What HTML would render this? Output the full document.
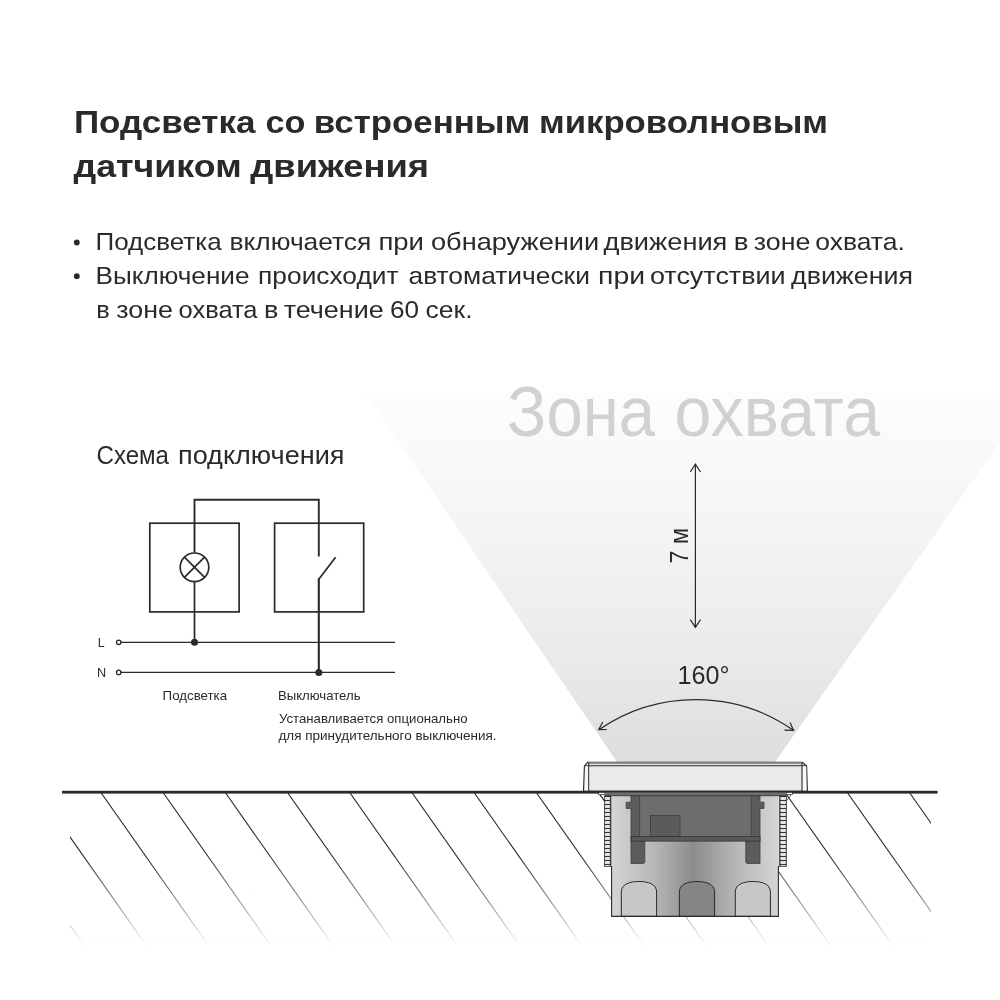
<!DOCTYPE html>
<html lang="ru">
<head>
<meta charset="utf-8">
<title>Подсветка со встроенным микроволновым датчиком движения</title>
<style>
  html, body { margin: 0; padding: 0; background: #ffffff; }
  body { width: 1000px; height: 1000px; overflow: hidden; position: relative; font-family: "Liberation Sans", sans-serif; }
  svg { position: absolute; left: 0; top: 0; display: block; will-change: transform; }
  text { font-family: "Liberation Sans", sans-serif; }
</style>
</head>
<body>
<svg width="1000" height="1000" viewBox="0 0 1000 1000">
  <defs>
    <linearGradient id="beamG" x1="0" y1="391" x2="0" y2="762" gradientUnits="userSpaceOnUse">
      <stop offset="0" stop-color="#fdfdfd"/>
      <stop offset="0.35" stop-color="#f4f5f5"/>
      <stop offset="0.75" stop-color="#e8e9e9"/>
      <stop offset="1" stop-color="#dcdddd"/>
    </linearGradient>
    <linearGradient id="bodyG" x1="611" y1="0" x2="779" y2="0" gradientUnits="userSpaceOnUse">
      <stop offset="0" stop-color="#d4d6d6"/>
      <stop offset="0.25" stop-color="#b7b8b8"/>
      <stop offset="0.49" stop-color="#8c8c8c"/>
      <stop offset="0.75" stop-color="#b7b8b8"/>
      <stop offset="1" stop-color="#d4d6d6"/>
    </linearGradient>
    <linearGradient id="hatchFade" x1="0" y1="793" x2="0" y2="946" gradientUnits="userSpaceOnUse">
      <stop offset="0" stop-color="#ffffff" stop-opacity="0"/>
      <stop offset="0.4" stop-color="#ffffff" stop-opacity="0"/>
      <stop offset="0.72" stop-color="#ffffff" stop-opacity="0.5"/>
      <stop offset="1" stop-color="#ffffff" stop-opacity="1"/>
    </linearGradient>
    <clipPath id="hatchClip"><rect x="70" y="793" width="861" height="154"/></clipPath>
  </defs>

  <!-- light beam -->
  <polygon points="364,391.5 1000,391.5 1000,442 775,762 617,762" fill="url(#beamG)"/>

  <!-- big zone label -->
  <!--ZONA-START-->
  <text x="507.01" y="435.8" font-size="70" fill="#d1d1d1" textLength="147.99" lengthAdjust="spacingAndGlyphs">Зона</text>
  <text x="674.50" y="435.8" font-size="70" fill="#d1d1d1" textLength="205.50" lengthAdjust="spacingAndGlyphs">охвата</text>
  <text x="96.54" y="463.8" font-size="25.6" fill="#2b2a29" textLength="72.47" lengthAdjust="spacingAndGlyphs">Схема</text>
  <text x="177.99" y="463.8" font-size="25.6" fill="#2b2a29" textLength="166.51" lengthAdjust="spacingAndGlyphs">подключения</text>
  <!--ZONA-END-->

  <!-- title & bullets -->
  <!--TEXT-START-->
  <g fill="#2b2a29">
    <text x="73.92" y="132.8" font-size="31.5" font-weight="bold" textLength="181.62" lengthAdjust="spacingAndGlyphs">Подсветка</text>
    <text x="265.50" y="132.8" font-size="31.5" font-weight="bold" textLength="40.00" lengthAdjust="spacingAndGlyphs">со</text>
    <text x="313.80" y="132.8" font-size="31.5" font-weight="bold" textLength="216.56" lengthAdjust="spacingAndGlyphs">встроенным</text>
    <text x="539.00" y="132.8" font-size="31.5" font-weight="bold" textLength="289.01" lengthAdjust="spacingAndGlyphs">микроволновым</text>
    <text x="73.51" y="176.6" font-size="31.5" font-weight="bold" textLength="168.10" lengthAdjust="spacingAndGlyphs">датчиком</text>
    <text x="250.29" y="176.6" font-size="31.5" font-weight="bold" textLength="178.71" lengthAdjust="spacingAndGlyphs">движения</text>
    <text x="95.51" y="250" font-size="24.6" textLength="126.14" lengthAdjust="spacingAndGlyphs">Подсветка</text>
    <text x="229.44" y="250" font-size="24.6" textLength="141.90" lengthAdjust="spacingAndGlyphs">включается</text>
    <text x="378.44" y="250" font-size="24.6" textLength="45.55" lengthAdjust="spacingAndGlyphs">при</text>
    <text x="431.02" y="250" font-size="24.6" textLength="168.12" lengthAdjust="spacingAndGlyphs">обнаружении</text>
    <text x="603.50" y="250" font-size="24.6" textLength="123.85" lengthAdjust="spacingAndGlyphs">движения</text>
    <text x="733.78" y="250" font-size="24.6" textLength="14.76" lengthAdjust="spacingAndGlyphs">в</text>
    <text x="753.81" y="250" font-size="24.6" textLength="56.67" lengthAdjust="spacingAndGlyphs">зоне</text>
    <text x="815.25" y="250" font-size="24.6" textLength="89.55" lengthAdjust="spacingAndGlyphs">охвата.</text>
    <text x="95.48" y="283.6" font-size="24.6" textLength="154.03" lengthAdjust="spacingAndGlyphs">Выключение</text>
    <text x="258.13" y="283.6" font-size="24.6" textLength="140.37" lengthAdjust="spacingAndGlyphs">происходит</text>
    <text x="408.50" y="283.6" font-size="24.6" textLength="181.38" lengthAdjust="spacingAndGlyphs">автоматически</text>
    <text x="598.04" y="283.6" font-size="24.6" textLength="47.03" lengthAdjust="spacingAndGlyphs">при</text>
    <text x="649.97" y="283.6" font-size="24.6" textLength="135.65" lengthAdjust="spacingAndGlyphs">отсутствии</text>
    <text x="791.01" y="283.6" font-size="24.6" textLength="121.99" lengthAdjust="spacingAndGlyphs">движения</text>
    <text x="96.23" y="317.8" font-size="24.6" textLength="13.54" lengthAdjust="spacingAndGlyphs">в</text>
    <text x="116.34" y="317.8" font-size="24.6" textLength="56.68" lengthAdjust="spacingAndGlyphs">зоне</text>
    <text x="178.52" y="317.8" font-size="24.6" textLength="79.02" lengthAdjust="spacingAndGlyphs">охвата</text>
    <text x="264.12" y="317.8" font-size="24.6" textLength="14.43" lengthAdjust="spacingAndGlyphs">в</text>
    <text x="283.66" y="317.8" font-size="24.6" textLength="100.00" lengthAdjust="spacingAndGlyphs">течение</text>
    <text x="389.96" y="317.8" font-size="24.6" textLength="28.98" lengthAdjust="spacingAndGlyphs">60</text>
    <text x="425.46" y="317.8" font-size="24.6" textLength="47.10" lengthAdjust="spacingAndGlyphs">сек.</text>
    <circle cx="76.8" cy="242.5" r="2.9"/>
    <circle cx="76.8" cy="276.2" r="2.9"/>
  </g>
  <!--TEXT-END-->

  <!-- wiring diagram -->
  <g fill="#2b2a29">
    <text id="t_L" x="97.8" y="646.9" font-size="12.3">L</text>
    <text id="t_N" x="97" y="676.8" font-size="12.3" textLength="9.2" lengthAdjust="spacingAndGlyphs">N</text>
    <text id="t_pods" x="162.6" y="699.8" font-size="13.4" textLength="64.5" lengthAdjust="spacingAndGlyphs">Подсветка</text>
    <text id="t_vykl" x="278" y="699.9" font-size="13.4" textLength="82.5" lengthAdjust="spacingAndGlyphs">Выключатель</text>
    <text id="t_ust" x="279" y="723.2" font-size="13.4" textLength="188.5" lengthAdjust="spacingAndGlyphs">Устанавливается опционально</text>
    <text id="t_dlya" x="278.5" y="740.1" font-size="13.4" textLength="218" lengthAdjust="spacingAndGlyphs">для принудительного выключения.</text>
  </g>
  <g fill="none" stroke="#2b2a29" stroke-width="1.7">
    <rect x="149.8" y="523.2" width="89.3" height="88.7"/>
    <rect x="274.6" y="523.2" width="89.1" height="88.7"/>
    <polyline points="194.5,552.5 194.5,499.8 318.8,499.8 318.8,556.5" stroke-width="1.9"/>
    <circle cx="194.5" cy="567.3" r="14.3"/>
    <line x1="184.4" y1="557.2" x2="204.6" y2="577.4"/>
    <line x1="204.6" y1="557.2" x2="184.4" y2="577.4"/>
    <line x1="194.5" y1="581.6" x2="194.5" y2="642.3"/>
    <line x1="335.6" y1="557.2" x2="318.8" y2="579.3"/>
    <line x1="318.8" y1="578.5" x2="318.8" y2="672.4" stroke-width="2.1"/>
    <line x1="121" y1="642.3" x2="395" y2="642.3" stroke-width="1.2"/>
    <line x1="121" y1="672.4" x2="395" y2="672.4" stroke-width="1.2"/>
    <circle cx="118.7" cy="642.3" r="2.2" stroke-width="1.3" fill="#fff"/>
    <circle cx="118.7" cy="672.4" r="2.2" stroke-width="1.3" fill="#fff"/>
  </g>
  <circle cx="194.5" cy="642.3" r="3.5" fill="#2b2a29"/>
  <circle cx="318.8" cy="672.4" r="3.5" fill="#2b2a29"/>

  <!-- 7 m arrow -->
  <g fill="none" stroke="#2b2a29" stroke-width="1.2">
    <line x1="695.4" y1="464.5" x2="695.4" y2="627"/>
    <polyline points="690.3,472 695.4,464.2 700.5,472"/>
    <polyline points="690.3,619.6 695.4,627.4 700.5,619.6"/>
  </g>
  <text transform="translate(688,563.5) rotate(-90)" font-size="25" fill="#2b2a29" textLength="35.5" lengthAdjust="spacingAndGlyphs">7 м</text>

  <!-- 160 arc -->
  <text id="t_160" x="677.5" y="683.7" font-size="26" fill="#2b2a29" textLength="52" lengthAdjust="spacingAndGlyphs">160°</text>
  <g fill="none" stroke="#2b2a29" stroke-width="1.2">
    <path d="M598.9,729.7 A171,171 0 0 1 793.4,730.2"/>
    <polyline points="602.8,722 598.7,729.7 606.9,729.5"/>
    <polyline points="790,722.6 793.6,730.3 784.5,730.2"/>
  </g>

  <!-- ground hatch -->
  <g clip-path="url(#hatchClip)">
    <g id="hatch" stroke="#2b2a29" stroke-width="1.1" fill="none">
      <line x1="-85.4" y1="793" x2="27.2" y2="953"/>
      <line x1="-23.2" y1="793" x2="89.4" y2="953"/>
      <line x1="39" y1="793" x2="151.6" y2="953"/>
      <line x1="101.2" y1="793" x2="213.8" y2="953"/>
      <line x1="163.4" y1="793" x2="276" y2="953"/>
      <line x1="225.6" y1="793" x2="338.2" y2="953"/>
      <line x1="287.8" y1="793" x2="400.4" y2="953"/>
      <line x1="350" y1="793" x2="462.6" y2="953"/>
      <line x1="412.2" y1="793" x2="524.8" y2="953"/>
      <line x1="474.4" y1="793" x2="587" y2="953"/>
      <line x1="536.6" y1="793" x2="649.2" y2="953"/>
      <line x1="598.8" y1="793" x2="711.4" y2="953"/>
      <line x1="661" y1="793" x2="773.6" y2="953"/>
      <line x1="723.2" y1="793" x2="835.8" y2="953"/>
      <line x1="785.4" y1="793" x2="898" y2="953"/>
      <line x1="847.6" y1="793" x2="960.2" y2="953"/>
      <line x1="909.8" y1="793" x2="1022.4" y2="953"/>
    </g>
    <rect x="60" y="793" width="880" height="165" fill="url(#hatchFade)"/>
  </g>
  <!-- ground line -->
  <rect x="62" y="790.8" width="875.5" height="2.8" fill="#2b2a29"/>

  <!-- DEVICE -->
  <g id="device">
    <!-- body -->
    <rect x="611.2" y="793" width="167.6" height="123.4" fill="url(#bodyG)"/>
    <!-- threads -->
    <rect x="604.1" y="795.4" width="7.2" height="71.4" fill="#333333"/>
    <rect x="779.2" y="795.4" width="7.6" height="71.4" fill="#333333"/>
    <g fill="#e2e3e3">
      <rect x="604.8" y="797.00" width="5.3" height="3" rx="1"/>
      <rect x="604.8" y="801.00" width="5.3" height="3" rx="1"/>
      <rect x="604.8" y="805.00" width="5.3" height="3" rx="1"/>
      <rect x="604.8" y="809.00" width="5.3" height="3" rx="1"/>
      <rect x="604.8" y="813.00" width="5.3" height="3" rx="1"/>
      <rect x="604.8" y="817.00" width="5.3" height="3" rx="1"/>
      <rect x="604.8" y="821.00" width="5.3" height="3" rx="1"/>
      <rect x="604.8" y="825.00" width="5.3" height="3" rx="1"/>
      <rect x="604.8" y="829.00" width="5.3" height="3" rx="1"/>
      <rect x="604.8" y="833.00" width="5.3" height="3" rx="1"/>
      <rect x="604.8" y="837.00" width="5.3" height="3" rx="1"/>
      <rect x="604.8" y="841.00" width="5.3" height="3" rx="1"/>
      <rect x="604.8" y="845.00" width="5.3" height="3" rx="1"/>
      <rect x="604.8" y="849.00" width="5.3" height="3" rx="1"/>
      <rect x="604.8" y="853.00" width="5.3" height="3" rx="1"/>
      <rect x="604.8" y="857.00" width="5.3" height="3" rx="1"/>
      <rect x="604.8" y="861.00" width="5.3" height="3" rx="1"/>
      <rect x="605" y="865" width="5" height="1.1" rx="0.4"/>
      <rect x="780.3" y="797.00" width="5.7" height="3" rx="1"/>
      <rect x="780.3" y="801.00" width="5.7" height="3" rx="1"/>
      <rect x="780.3" y="805.00" width="5.7" height="3" rx="1"/>
      <rect x="780.3" y="809.00" width="5.7" height="3" rx="1"/>
      <rect x="780.3" y="813.00" width="5.7" height="3" rx="1"/>
      <rect x="780.3" y="817.00" width="5.7" height="3" rx="1"/>
      <rect x="780.3" y="821.00" width="5.7" height="3" rx="1"/>
      <rect x="780.3" y="825.00" width="5.7" height="3" rx="1"/>
      <rect x="780.3" y="829.00" width="5.7" height="3" rx="1"/>
      <rect x="780.3" y="833.00" width="5.7" height="3" rx="1"/>
      <rect x="780.3" y="837.00" width="5.7" height="3" rx="1"/>
      <rect x="780.3" y="841.00" width="5.7" height="3" rx="1"/>
      <rect x="780.3" y="845.00" width="5.7" height="3" rx="1"/>
      <rect x="780.3" y="849.00" width="5.7" height="3" rx="1"/>
      <rect x="780.3" y="853.00" width="5.7" height="3" rx="1"/>
      <rect x="780.3" y="857.00" width="5.7" height="3" rx="1"/>
      <rect x="780.3" y="861.00" width="5.7" height="3" rx="1"/>
      <rect x="780.5" y="865" width="5.3" height="1.1" rx="0.4"/>
    </g>
    <!-- arches -->
    <g stroke="#2b2a29" stroke-width="1">
      <path d="M621.3,916.4 V892 C621.3,884 630,881.5 639,881.5 C648,881.5 656.6,884 656.6,892 V916.4 Z" fill="#c6c8c8"/>
      <path d="M679.4,916.4 V892 C679.4,884 688,881.5 697,881.5 C706,881.5 714.6,884 714.6,892 V916.4 Z" fill="#858585"/>
      <path d="M735.3,916.4 V892 C735.3,884 744,881.5 753,881.5 C762,881.5 770.4,884 770.4,892 V916.4 Z" fill="#c6c8c8"/>
    </g>
    <!-- body outline -->
    <path d="M611.6,866 V916.4 H778.4 V866" fill="none" stroke="#2b2a29" stroke-width="1.1"/>
    <!-- cavity -->
    <rect x="631" y="795.4" width="129" height="41.2" fill="#6d6d6d"/>
    <!-- small box -->
    <rect x="650.4" y="815.4" width="29.6" height="21.2" fill="#5b5b5b" stroke="#3c3c3c" stroke-width="0.8"/>
    <!-- bars, tabs, legs -->
    <g fill="#5c5c5c" stroke="#3c3c3c" stroke-width="0.8">
      <path d="M631,795.4 H639.6 V841 H644.8 V862.4 L643.6,863.4 H631 V808.4 H626.2 V802.2 H631 Z"/>
      <path d="M760,795.4 H751.2 V841 H745.8 V862.4 L747,863.4 H760 V808.4 H764 V802.2 H760 Z"/>
    </g>
    <!-- shelf -->
    <rect x="631" y="836.5" width="129" height="4.6" fill="#595959" stroke="#333333" stroke-width="0.8"/>
    <!-- top band under plate -->
    <rect x="604.6" y="792.4" width="181.8" height="3.2" fill="#6e6e6e"/>
    <line x1="604.6" y1="795.7" x2="786.4" y2="795.7" stroke="#333333" stroke-width="0.9"/>
    <!-- small white tabs -->
    <rect x="598.4" y="792.4" width="6.2" height="2.5" fill="#2b2a29"/><rect x="599" y="792.8" width="5.4" height="1.4" fill="#fbfbfb"/>
    <rect x="786.4" y="792.4" width="6.2" height="2.5" fill="#2b2a29"/><rect x="786.6" y="792.8" width="5.4" height="1.4" fill="#fbfbfb"/>
    <path d="M600,795 L604.2,800.5 M791,795 L786.8,800.5" stroke="#2b2a29" stroke-width="0.8" fill="none"/>
    <!-- plate -->
    <path d="M583.5,791 L584.4,766 L587.6,762.3 H802.6 L806.6,766 L807.4,791 Z" fill="#e9ebeb" stroke="#2b2a29" stroke-width="1.1" stroke-linejoin="round"/>
    <rect x="588" y="762.3" width="214.4" height="1.8" fill="#8f9090"/>
    <rect x="588" y="764.1" width="214.4" height="1" fill="#e4e6e6"/>
    <line x1="584.6" y1="765.7" x2="806.4" y2="765.7" stroke="#2b2a29" stroke-width="1.1"/>
    <rect x="585.4" y="766.4" width="2.8" height="24" fill="#f8f8f8"/>
    <rect x="802.6" y="766.4" width="3.6" height="24" fill="#f8f8f8"/>
    <line x1="588.7" y1="762.6" x2="588.7" y2="791" stroke="#2b2a29" stroke-width="1"/>
    <line x1="802" y1="762.6" x2="802" y2="791" stroke="#2b2a29" stroke-width="1.1"/>
  </g>
</svg>
</body>
</html>
